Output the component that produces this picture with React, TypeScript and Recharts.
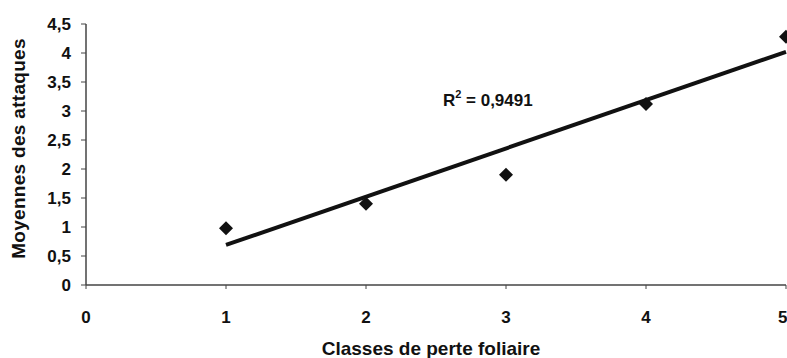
import { ScatterChart, Scatter, XAxis, YAxis, ReferenceDot } from 'recharts';

// Moyennes des attaques par classe de perte foliaire
const classes = [1, 2, 3, 4, 5];
const moyennes = [0.98, 1.4, 1.9, 3.12, 4.28];

// droite de tendance (extrémités)
const trendX = [1, 5];
const trendY = [0.69, 4.02];

const xTicks = [0, 1, 2, 3, 4, 5];
const yTicks = [0, 0.5, 1, 1.5, 2, 2.5, 3, 3.5, 4, 4.5];

const points = classes.map((x, i) => ({ x, y: moyennes[i] }));
const trend = trendX.map((x, i) => ({ x, y: trendY[i] }));

const font = '"Liberation Sans", Arial, sans-serif';
const fmt = (v: number) => String(v).replace('.', ',');

const Diamond = (props: any) => {
  const { cx, cy } = props;
  const r = 7;
  return <polygon points={`${cx},${cy - r} ${cx + r},${cy} ${cx},${cy + r} ${cx - r},${cy}`} fill="#111" />;
};

const R2Label = (props: any) => {
  const { viewBox } = props;
  return (
    <text x={viewBox.x} y={viewBox.y} textAnchor="middle" dominantBaseline="middle" fontFamily={font} fontWeight="bold" fontSize={17} fill="#111">
      R<tspan dy={-7} fontSize={11}>2</tspan>
      <tspan dy={7}> = 0,9491</tspan>
    </text>
  );
};

const YTitle = (props: any) => {
  const { viewBox } = props;
  const x = 20;
  const y = viewBox.y + viewBox.height / 2 - 6;
  return (
    <text x={x} y={y} transform={`rotate(-90 ${x} ${y})`} textAnchor="middle" dominantBaseline="middle" fontFamily={font} fontWeight="bold" fontSize={19} letterSpacing={0.3} fill="#111">
      Moyennes des attaques
    </text>
  );
};

export default function App() {
  return (
    <div style={{ position: 'absolute', left: 0, top: 0, background: '#fff' }}>
      <ScatterChart width={787} height={358} margin={{ top: 24, right: 1, bottom: 0, left: 0 }}>
        <XAxis
          type="number"
          dataKey="x"
          domain={[0, 5]}
          ticks={xTicks}
          tickLine={{ stroke: '#444' }}
          axisLine={{ stroke: '#444', strokeWidth: 1.5 }}
          tickSize={4}
          tick={{ fontFamily: font, fontWeight: 'bold', fontSize: 17, fill: '#111', dy: 20 }}
          height={73}
          label={{ value: 'Classes de perte foliaire', position: 'insideBottom', offset: 3, dx: -5, fontFamily: font, fontWeight: 'bold', fontSize: 19, fill: '#111' }}
        />
        <YAxis
          type="number"
          dataKey="y"
          domain={[0, 4.5]}
          ticks={yTicks}
          tickFormatter={fmt}
          tickLine={{ stroke: '#444' }}
          axisLine={{ stroke: '#444', strokeWidth: 1.5 }}
          tickSize={5}
          tickMargin={10}
          tick={{ fontFamily: font, fontWeight: 'bold', fontSize: 17, fill: '#111' }}
          width={86}
          label={<YTitle />}
        />
        <Scatter data={trend} line={{ stroke: '#111', strokeWidth: 4 }} shape={() => <g />} isAnimationActive={false} />
        <Scatter data={points} shape={Diamond} isAnimationActive={false} />
        <ReferenceDot x={2.87} y={3.16} r={0} stroke="none" fill="none" label={<R2Label />} />
      </ScatterChart>
    </div>
  );
}
